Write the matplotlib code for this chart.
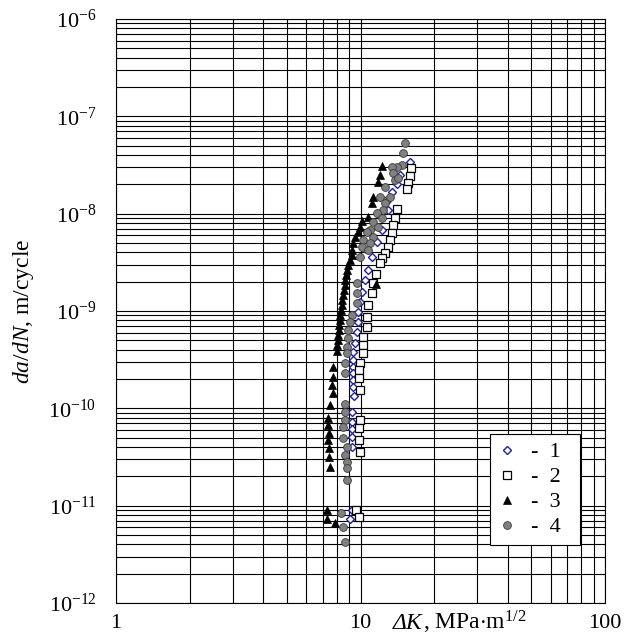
import matplotlib
matplotlib.use("Agg")
import matplotlib.pyplot as plt
from matplotlib.ticker import LogLocator, NullFormatter, FixedLocator
from matplotlib.offsetbox import TextArea, HPacker, AnchoredOffsetbox

plt.rcParams['font.family'] = ['Liberation Serif', 'DejaVu Serif']
plt.rcParams['mathtext.fontset'] = 'custom'
plt.rcParams['mathtext.rm'] = 'Liberation Serif'
plt.rcParams['mathtext.it'] = 'Liberation Serif:italic'
plt.rcParams['axes.unicode_minus'] = False

# series 1 (open blue diamonds)
dk1 = [15.94, 14.51, 14.07, 13.40, 13.00, 12.21, 11.64, 11.11, 10.76, 10.43,
       10.12, 9.95, 9.80, 9.80, 9.64, 9.49, 9.34, 9.28, 9.28, 9.34, 9.28, 9.34,
       9.41, 9.21, 9.21, 9.21, 9.21, 9.21, 9.21, 9.02]
da1 = [3.42e-8, 2.50e-8, 2.02e-8, 1.66e-8, 1.09e-8, 6.78e-9, 5.14e-9, 3.61e-9,
       2.63e-9, 2.08e-9, 1.58e-9, 1.24e-9, 9.82e-10, 7.75e-10, 6.11e-10, 4.65e-10,
       3.81e-10, 3.13e-10, 2.67e-10, 2.29e-10, 1.95e-10, 1.66e-10, 1.33e-10,
       9.21e-11, 7.27e-11, 6.07e-11, 5.09e-11, 4.02e-11, 8.99e-12, 7.27e-12]

# series 2 (open squares)
dk2 = [16.09, 15.94, 15.68, 15.45, 14.05, 13.84, 13.62, 13.40, 13.20, 13.00,
       12.60, 12.21, 12.02, 11.57, 11.28, 11.11, 10.76, 10.60, 10.60, 10.27,
       10.27, 10.27, 9.95, 9.89, 9.86, 9.95, 9.95, 9.89, 9.89, 9.95, 9.58, 9.89]
da2 = [2.92e-8, 2.46e-8, 2.08e-8, 1.79e-8, 1.11e-8, 8.95e-9, 7.63e-9, 6.27e-9,
       5.35e-9, 4.57e-9, 3.91e-9, 3.47e-9, 3.08e-9, 2.39e-9, 1.92e-9, 1.52e-9,
       1.15e-9, 8.72e-10, 6.88e-10, 5.43e-10, 4.46e-10, 3.67e-10, 2.89e-10,
       2.47e-10, 2.03e-10, 1.54e-10, 7.56e-11, 6.21e-11, 4.71e-11, 3.57e-11,
       8.99e-12, 7.56e-12]

# series 3 (filled triangles)
dk3 = [12.21, 12.02, 11.79, 11.28, 11.11, 10.70, 10.12, 9.95, 9.80, 9.49, 9.34,
       9.21, 9.23, 9.06, 8.89, 8.81, 8.72, 8.64, 8.64, 8.56, 8.48, 8.40, 8.40,
       8.32, 8.25, 8.25, 8.17, 8.17, 8.09, 8.09, 8.01, 8.01, 7.74, 7.69, 7.61,
       7.69, 7.50, 7.38, 7.38, 7.45, 7.38, 7.45, 7.45, 7.50, 7.27, 7.27, 7.87,
       11.52]
da3 = [3.08e-8, 2.50e-8, 2.11e-8, 1.50e-8, 1.30e-8, 9.29e-9, 8.40e-9, 7.30e-9,
       6.50e-9, 5.80e-9, 4.95e-9, 4.20e-9, 3.75e-9, 3.34e-9, 2.96e-9, 2.63e-9,
       2.34e-9, 2.08e-9, 1.85e-9, 1.65e-9, 1.46e-9, 1.30e-9, 1.15e-9, 1.02e-9,
       9.08e-10, 8.07e-10, 7.17e-10, 6.37e-10, 5.66e-10, 5.02e-10, 4.46e-10,
       3.87e-10, 2.67e-10, 2.11e-10, 1.73e-10, 1.42e-10, 1.08e-10, 7.87e-11,
       6.72e-11, 5.52e-11, 4.71e-11, 3.87e-11, 3.17e-11, 2.49e-11, 8.99e-12,
       7.27e-12, 6.66e-12, 1.89e-9]

# series 4 (grey circles)
dk4 = [15.26, 14.97, 14.73, 14.05, 13.40, 13.58, 13.84, 14.23, 12.60, 12.02,
       12.80, 13.20, 12.60, 12.36, 11.65, 12.21, 11.28, 11.82, 10.94, 10.60,
       11.28, 10.27, 10.94, 10.12, 10.76, 9.95, 9.64, 9.64, 9.64, 9.21, 9.06,
       8.92, 8.92, 8.79, 8.79, 8.64, 8.64, 8.64, 8.64, 8.64, 8.50, 8.50, 8.79,
       8.64, 8.79, 8.79, 8.79, 8.32, 8.46, 8.64]
da4 = [5.35e-8, 4.23e-8, 3.15e-8, 3.01e-8, 3.03e-8, 2.62e-8, 2.22e-8, 2.32e-8,
       1.89e-8, 1.50e-8, 1.38e-8, 1.50e-8, 1.29e-8, 1.09e-8, 1.01e-8, 9.01e-9,
       8.26e-9, 7.33e-9, 6.78e-9, 6.51e-9, 5.79e-9, 5.35e-9, 4.95e-9, 4.57e-9,
       4.23e-9, 3.61e-9, 1.92e-9, 1.52e-9, 1.20e-9, 9.08e-10, 7.75e-10, 6.37e-10,
       5.23e-10, 4.29e-10, 3.67e-10, 2.89e-10, 2.29e-10, 1.12e-10, 9.21e-11,
       7.56e-11, 6.45e-11, 4.90e-11, 4.02e-11, 3.31e-11, 2.80e-11, 2.43e-11,
       1.83e-11, 8.37e-12, 5.97e-12, 4.19e-12]

y_ticks = [1e-12, 1e-11, 1e-10, 1e-9, 1e-8, 1e-7, 1e-6]
y_labels = [r'10$^{-12}$', r'10$^{-11}$', r'10$^{-10}$', r'10$^{-9}$',
            r'10$^{-8}$', r'10$^{-7}$', r'10$^{-6}$']
x_ticks = [1, 10, 100]
x_labels = ['1', '10', '100']

fig = plt.figure(figsize=(6.36, 6.37), dpi=100)
ax = fig.add_axes([0.1824, 0.0534, 0.7689, 0.9168])

ax.plot(dk1, da1, linestyle='none', marker='D', ms=4.4, mfc='white',
        mec='#1f1fa8', mew=1.0, label='-  1  ', zorder=3)
ax.plot(dk2, da2, linestyle='none', marker='s', ms=5.2, mfc='white',
        mec='black', mew=0.9, label='-  2  ', zorder=3)
ax.plot(dk3, da3, linestyle='none', marker='^', ms=6.3, mfc='black',
        mec='black', mew=0.5, label='-  3  ', zorder=3)
ax.plot(dk4, da4, linestyle='none', marker='o', ms=5.6, mfc='#808080',
        mec='#3a3a3a', mew=0.6, label='-  4  ', zorder=3)

ax.set_xscale('log')
ax.set_yscale('log')
ax.set_xlim(1, 100)
ax.set_ylim(1e-12, 1e-6)

ax.yaxis.set_major_locator(FixedLocator(y_ticks))
ax.set_yticklabels(y_labels)
ax.xaxis.set_major_locator(FixedLocator(x_ticks))
ax.set_xticklabels(x_labels)
ax.yaxis.set_minor_locator(LogLocator(base=10, subs=range(2, 10), numticks=20))
ax.xaxis.set_minor_locator(LogLocator(base=10, subs=range(2, 10), numticks=20))
ax.xaxis.set_minor_formatter(NullFormatter())
ax.yaxis.set_minor_formatter(NullFormatter())

ax.grid(True, which='both', color='black', linewidth=0.8)
ax.tick_params(which='both', length=0, labelsize=16)
ax.tick_params(axis='y', pad=14)
ax.tick_params(axis='x', pad=8)

for sp in ax.spines.values():
    sp.set_color('black')
    sp.set_linewidth(0.8)

ax.set_ylabel(r'$\it{da/dN}$, m/cycle', fontsize=17, labelpad=9)

# x label sits on the tick label line, between 10 and 100
xl = HPacker(children=[TextArea('ΔK', textprops=dict(fontsize=17, style='italic')),
                       TextArea(r', MPa$\cdot$m$^{1/2}$', textprops=dict(fontsize=17))],
             align='baseline', pad=0, sep=0)
box = AnchoredOffsetbox(loc='center left', child=xl, frameon=False, pad=0,
                        borderpad=0, bbox_to_anchor=(0.567, -0.033),
                        bbox_transform=ax.transAxes)
ax.add_artist(box)

leg = ax.legend(loc='lower right', bbox_to_anchor=(0.949, 0.099), fontsize=16,
                frameon=True, fancybox=False, framealpha=1, edgecolor='black',
                handlelength=0.8, handletextpad=0.7, labelspacing=0.2,
                borderpad=0.35, borderaxespad=0)
leg.get_frame().set_linewidth(0.8)

fig.savefig('out.png', dpi=100)
